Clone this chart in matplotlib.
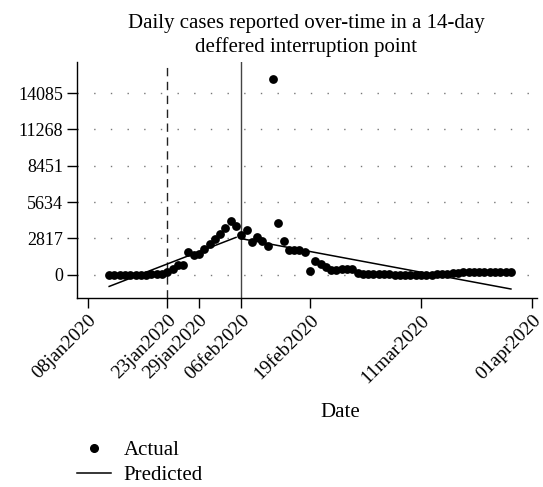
import matplotlib
matplotlib.use("Agg")
import matplotlib.pyplot as plt
from matplotlib.lines import Line2D
import pandas as pd

# ---- data ----
start_date = "2020-01-12"
actual = [
    0, 0, 0, 0, 0, 0, 0, 0, 30, 40, 40,                      # Jan 12-22
    210, 465, 725, 770, 1730, 1550, 1600, 1990, 2400,         # Jan 23-31
    2790, 3200, 3600, 4140, 3800, 3050,                       # Feb 1-6
    3470, 2510, 2920, 2640, 2200, 15200, 4010, 2640,          # Feb 7-14
    1940, 1940, 1940, 1730, 260, 1035, 850, 600, 335,         # Feb 15-23
    390, 440, 440, 420, 130, 100,                             # Feb 24-29
    80, 60, 50, 40, 30, 20, 10, 10, 5, 5, 5, 10, 20, 40, 60,  # Mar 1-15
    100, 130, 170, 210, 220, 230, 240, 250, 250, 240, 240,    # Mar 16-26
    235, 230,                                                 # Mar 27-28
]
pred_pre_dates = ["2020-01-12", "2020-02-05"]
pred_pre_vals = [-900, 2900]
pred_post_dates = ["2020-02-06", "2020-03-28"]
pred_post_vals = [2800, -1100]

interrupt_dates = ["2020-01-23", "2020-02-06"]
xtick_labels = ["08jan2020", "23jan2020", "29jan2020", "06feb2020",
                "19feb2020", "11mar2020", "01apr2020"]
ytick_vals = [0, 2817, 5634, 8451, 11268, 14085]

title = "Daily cases reported over-time in a 14-day\ndeffered interruption point"

# ---- plot ----
plt.rcParams['font.family'] = ['Liberation Serif', 'DejaVu Serif']
fig = plt.figure(figsize=(5.43, 4.87), dpi=100)
ax = fig.add_axes([0.1418, 0.388, 0.847, 0.485])

dates = pd.date_range(start_date, periods=len(actual), freq="D")
ax.scatter(dates, actual, s=40, color="black", zorder=3, linewidths=0)
ax.plot(pd.to_datetime(pred_pre_dates), pred_pre_vals, color="black", lw=1.1, zorder=2)
ax.plot(pd.to_datetime(pred_post_dates), pred_post_vals, color="black", lw=1.1, zorder=2)

ax.axvline(pd.Timestamp(interrupt_dates[0]), color="#222222", lw=1.0,
           linestyle=(0, (6, 4)), zorder=1)
ax.axvline(pd.Timestamp(interrupt_dates[1]), color="#444444", lw=1.0, zorder=1)

ax.set_ylim(-1800, 16500)
ax.set_xlim(pd.Timestamp("2020-01-05 22:00"), pd.Timestamp("2020-04-01 22:00"))
ax.set_yticks(ytick_vals)
ax.set_yticklabels([str(v) for v in ytick_vals], fontsize=13)
xt = pd.to_datetime(xtick_labels, format="%d%b%Y")
ax.set_xticks(xt)
ax.set_xticklabels(xtick_labels, rotation=45, ha="right", va="top",
                   rotation_mode="anchor", fontsize=14)
ax.tick_params(axis="both", direction="out", length=7, width=1, color="black")
ax.tick_params(axis="x", pad=3)
ax.tick_params(axis="y", pad=3)

for v in ytick_vals:
    ax.axhline(v, color="#777777", lw=1.0, linestyle=(0, (1, 11)), zorder=0)

for s in ["top", "right"]:
    ax.spines[s].set_visible(False)
for s in ["left", "bottom"]:
    ax.spines[s].set_linewidth(1.0)

ax.set_xlabel("Date", fontsize=15)
ax.xaxis.set_label_coords(0.572, -0.443)

fig.text(0.5636, 0.927, title, fontsize=15, ha="center", va="center",
         linespacing=1.3)

handles = [Line2D([], [], marker="o", color="black", linestyle="none", markersize=5.5),
           Line2D([], [], color="black", lw=1.1)]
fig.legend(handles, ["Actual", "Predicted"], loc="upper left",
           bbox_to_anchor=(0.127, 0.112), frameon=False, fontsize=15,
           handlelength=1.6, handletextpad=0.63, labelspacing=0.25,
           borderaxespad=0)

fig.savefig("out.png", dpi=100)
